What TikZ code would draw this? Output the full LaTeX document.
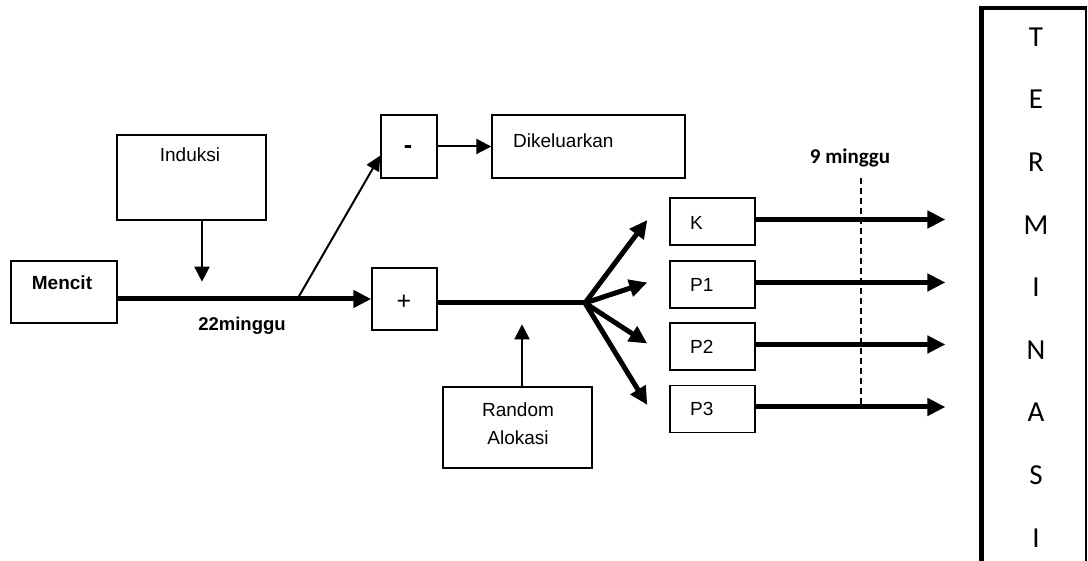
\documentclass[tikz,border=0pt]{standalone}
\usepackage{fontspec}
\setmainfont{Liberation Sans}
\newfontfamily\calfont{Carlito}
\usetikzlibrary{arrows.meta,calc}
\begin{document}
\begin{tikzpicture}[x=1pt,y=-1pt,
  box/.style={draw,line width=1.4pt,inner sep=0pt},
  lbl/.style={inner sep=0pt,font=\fontsize{19}{22}\selectfont},
  blbl/.style={inner sep=0pt,font=\bfseries\fontsize{19}{22}\selectfont},
  tlbl/.style={inner sep=0pt,font=\calfont\fontsize{29}{30}\selectfont},
  thickarrow/.style={line width=5pt,-{Triangle[length=18pt,width=17pt]}},
  thickline/.style={line width=5pt},
  thinarrow/.style={line width=2pt,-{Triangle[length=15pt,width=15pt]}},
  thinline/.style={line width=2pt},
  dashline/.style={line width=2pt,dash pattern=on 6pt off 4pt}]
\useasboundingbox (0,0) rectangle (1088,561);
% boxes
\node[box,minimum width=106pt,minimum height=62pt] (mencit) at (64,292) {};
\node[blbl] (mencitT) at (62,283) {Mencit};
\node[box,minimum width=149pt,minimum height=85pt] (induksi) at (191.5,177.5) {};
\node[lbl] (induksiT) at (190,155) {Induksi};
\node[box,minimum width=56pt,minimum height=63pt] (minus) at (409,146.5) {};
\node[lbl,font=\bfseries\fontsize{25}{26}\selectfont] (minusT) at (408,150) {-};
\node[box,minimum width=193pt,minimum height=63pt] (dikel) at (588.5,146.5) {};
\node[lbl,anchor=west] (dikelT) at (513,141) {Dikeluarkan};
\node[box,minimum width=65pt,minimum height=62pt] (plus) at (404.5,299) {};
\node[lbl,font=\fontsize{25}{26}\selectfont] (plusT) at (404,302) {+};
\node[box,minimum width=149pt,minimum height=81pt] (random) at (517.5,427.5) {};
\node[lbl] (randomT1) at (518,410) {Random};
\node[lbl] (randomT2) at (518,438) {Alokasi};
\node[box,minimum width=85pt,minimum height=47pt] (K) at (712.5,221.5) {};
\node[lbl,anchor=west] (KT) at (690,223) {K};
\node[box,minimum width=85pt,minimum height=47pt] (P1) at (712.5,284.5) {};
\node[lbl,anchor=west] (P1T) at (690,285) {P1};
\node[box,minimum width=85pt,minimum height=47pt] (P2) at (712.5,346.5) {};
\node[lbl,anchor=west] (P2T) at (690,347) {P2};
\node[box,minimum width=85pt,minimum height=47pt] (P3) at (712.5,409) {};
\node[lbl,anchor=west] (P3T) at (690,409) {P3};
% terminasi
\node[draw,line width=1.2pt,inner sep=0pt,minimum width=104pt,minimum height=553pt] (term) at (1034,285.5) {};
\draw[line width=5pt] (term.south west) -- ([yshift=2pt]term.north west);
\draw[line width=4pt] ([xshift=-2.5pt]term.north west) -- (term.north east);
\foreach \L [count=\i from 0] in {T,E,R,M,I,N,A,S,I}{
  \node[tlbl] (t\i) at (1036,{37+62.6*\i}) {\L};
}
% labels
\node[blbl,font=\bfseries\fontsize{18.5}{22}\selectfont] (w22) at (242,326) {22minggu};
\node[inner sep=0pt,font=\calfont\bfseries\fontsize{21}{24}\selectfont] (w9) at (850,158) {9 minggu};
% connectors
\draw[thickarrow] (mencit.east |- plus.west) -- (plus.west);
\draw[thinarrow] ([xshift=10.5pt]induksi.south) -- ++(0,61);
\coordinate (br) at (298,298);
\draw[thinline,-{Triangle[length=15pt,width=14pt]}] (br) -- ([yshift=-9pt]minus.west);
\draw[thinarrow] (minus.east) -- (dikel.west);
\draw[thinarrow] ([xshift=4.5pt]random.north) -- ++(0,-62);
\coordinate (split) at (585,303);
\draw[thickline] ([yshift=-4pt]plus.east) -- (split);
\draw[thickarrow] (split) -- ([xshift=-22pt,yshift=1.5pt]K.west);
\draw[thickarrow] (split) -- ([xshift=-22pt,yshift=2pt]P1.west);
\draw[thickarrow] (split) -- ([xshift=-22pt,yshift=3pt]P2.west);
\draw[thickarrow] (split) -- ([xshift=-22pt,yshift=4pt]P3.west);
\foreach \b in {K,P1,P2,P3}{
  \draw[thickarrow] ([yshift=2pt]\b.east) -- ($([yshift=2pt]\b.east -| term.west)+(-36,0)$);
}
\coordinate (d1) at (861,178);
\coordinate (d2) at (861,407);
\draw[dashline] (d1) -- (d2);
\end{tikzpicture}
\end{document}
